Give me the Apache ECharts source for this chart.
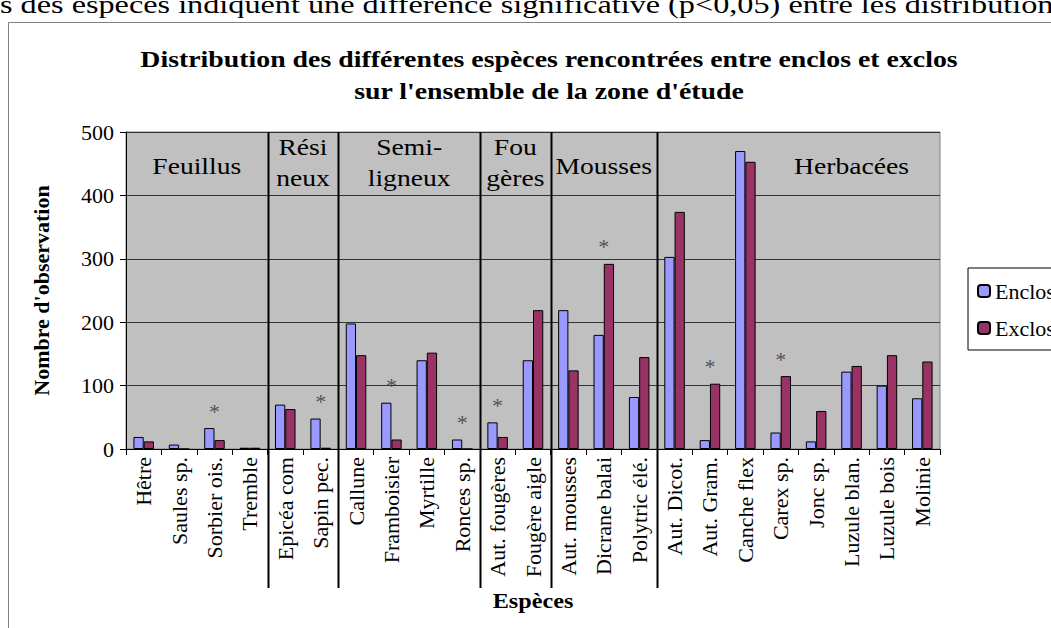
<!DOCTYPE html>
<html>
<head>
  <meta charset="utf-8">
  <title>Distribution des espèces</title>
  <script src="https://cdn.jsdelivr.net/npm/echarts@6/dist/echarts.min.js"></script>
  <style>
  html, body { margin: 0; padding: 0; background: #fff; overflow: hidden; }
  #main { width: 1051px; height: 628px; }
  </style>
</head>
<body>
  <div id="main"></div>
  <script type="text/javascript">
  var especes = ['Hêtre', 'Saules sp.', 'Sorbier ois.', 'Tremble', 'Epicéa com', 'Sapin pec.',
    'Callune', 'Framboisier', 'Myrtille', 'Ronces sp.', 'Aut. fougères', 'Fougère aigle',
    'Aut. mousses', 'Dicrane balai', 'Polytric élé.', 'Aut. Dicot.', 'Aut. Gram.', 'Canche flex',
    'Carex sp.', 'Jonc sp.', 'Luzule blan.', 'Luzule bois', 'Molinie'];
  var enclos = [19, 7, 33, 2, 70, 48, 198, 73, 140, 15, 42, 140, 219, 180, 82, 303, 14, 470, 26, 12, 122, 100, 80];
  var exclos = [12, 0, 14, 2, 63, 2, 148, 15, 152, 0, 19, 219, 124, 292, 145, 374, 103, 453, 115, 60, 131, 148, 138];
  // species with a significant difference (asterisk)
  var significatif = ['Sorbier ois.', 'Sapin pec.', 'Framboisier', 'Ronces sp.', 'Aut. fougères',
    'Dicrane balai', 'Aut. Gram.', 'Carex sp.'];
  // groups: label, first species, last species, species the label sits over (optional)
  var groupes = [
    ['Feuillus', 'Hêtre', 'Tremble'],
    ['Rési\nneux', 'Epicéa com', 'Sapin pec.'],
    ['Semi-\nligneux', 'Callune', 'Ronces sp.'],
    ['Fou\ngères', 'Aut. fougères', 'Fougère aigle'],
    ['Mousses', 'Aut. mousses', 'Polytric élé.'],
    ['Herbacées', 'Aut. Dicot.', 'Molinie', 'Luzule blan.']
  ];
  var yTicks = [0, 100, 200, 300, 400, 500];

  var serif = 'Liberation Serif, Times New Roman, serif';
  var myChart = echarts.init(document.getElementById('main'), null, { renderer: 'svg' });

  var etoiles = [];
  significatif.forEach(function (s) {
    var i = especes.indexOf(s);
    etoiles.push([i, Math.max(enclos[i], exclos[i])]);
  });

  var option = {
    animation: false,
    backgroundColor: '#fff',
    grid: {
      left: 126, right: 111, top: 132, bottom: 179,
      show: true, backgroundColor: '#C0C0C0', borderColor: '#808080', borderWidth: 1
    },
    legend: {
      data: ['Enclos', 'Exclos'],
      orient: 'vertical',
      left: 968, top: 268,
      itemWidth: 12, itemHeight: 12, itemGap: 15,
      padding: [12, 60, 11, 9],
      borderColor: '#000', borderWidth: 1,
      textStyle: { fontFamily: serif, fontSize: 22, color: '#000' }
    },
    xAxis: {
      type: 'category',
      data: especes,
      axisLine: { lineStyle: { color: '#000' } },
      axisTick: { show: true, length: 6, lineStyle: { color: '#000' } },
      axisLabel: { rotate: 90, interval: 0, margin: 8, fontFamily: serif, fontSize: 22, color: '#000' }
    },
    yAxis: {
      type: 'value',
      min: 0, max: 500, interval: 100,
      name: "Nombre d'observation",
      nameLocation: 'middle',
      nameGap: 74,
      nameTextStyle: { fontFamily: serif, fontSize: 22, fontWeight: 'bold', color: '#000' },
      axisLine: { show: true, lineStyle: { color: '#000' } },
      axisTick: { show: true, length: 6, lineStyle: { color: '#000' } },
      axisLabel: {
        fontFamily: serif, fontSize: 22, color: '#000', margin: 12,
        formatter: function (v) { return yTicks.indexOf(v) >= 0 ? String(v) : ''; }
      },
      splitLine: { lineStyle: { color: '#333', width: 1 } }
    },
    series: [
      {
        name: 'Enclos', type: 'bar', data: enclos,
        barGap: 0, barCategoryGap: '42%',
        itemStyle: { color: '#9999FF', borderColor: '#000', borderWidth: 1 }
      },
      {
        name: 'Exclos', type: 'bar', data: exclos,
        itemStyle: { color: '#993366', borderColor: '#000', borderWidth: 1 }
      },
      {
        name: 'etoiles', type: 'scatter', data: etoiles,
        symbolSize: 0, silent: true,
        label: {
          show: true, position: 'top', distance: 6,
          formatter: '*', fontFamily: serif, fontSize: 22, color: '#333'
        }
      }
    ]
  };
  myChart.setOption(option);

  // separators and group names, placed from the category scale
  function px(i) { return myChart.convertToPixel({ xAxisIndex: 0 }, i); }
  var step = px(1) - px(0);
  var elements = [];
  groupes.forEach(function (g, k) {
    var a = especes.indexOf(g[1]), b = especes.indexOf(g[2]);
    var xc = g[3] ? px(especes.indexOf(g[3])) : (px(a) + px(b)) / 2;
    var deuxLignes = g[0].indexOf('\n') >= 0;
    elements.push({
      type: 'text', x: xc, y: deuxLignes ? 132 : 151, z: 10, scaleX: 1.15,
      style: {
        text: g[0], fill: '#000', font: '24px ' + serif,
        align: 'center', verticalAlign: 'top', lineHeight: 31
      }
    });
    if (k < groupes.length - 1) {
      var xs = Math.round(px(b) + step / 2) + 0.5;
      elements.push({
        type: 'line', z: 10,
        shape: { x1: xs, y1: 132, x2: xs, y2: 588 },
        style: { stroke: '#000', lineWidth: 2 }
      });
    }
  });
  // outer chart frame
  elements.push({
    type: 'rect', shape: { x: 8.5, y: 22.5, width: 1100, height: 700 },
    style: { fill: 'none', stroke: '#808080', lineWidth: 1 }, z: 0
  });
  elements.push({
    type: 'text', x: 549, y: 43, scaleX: 1.21,
    style: {
      text: 'Distribution des différentes espèces rencontrées entre enclos et exclos\nsur l\'ensemble de la zone d\'étude',
      fill: '#000', font: 'bold 23px ' + serif, align: 'center', verticalAlign: 'top', lineHeight: 32
    }
  });
  elements.push({
    type: 'text', x: 533, y: 589, scaleX: 1.1,
    style: {
      text: 'Espèces', fill: '#000', font: 'bold 22px ' + serif,
      align: 'center', verticalAlign: 'top', lineHeight: 22
    }
  });
  elements.push({
    type: 'text', x: 0, y: -9, scaleX: 1.29,
    style: {
      text: 's des espèces indiquent une différence significative (p<0,05) entre les distributions',
      fill: '#000', font: '25px ' + serif, align: 'left', verticalAlign: 'top', lineHeight: 26
    }
  });
  myChart.setOption({ graphic: elements });
  </script>
</body>
</html>
